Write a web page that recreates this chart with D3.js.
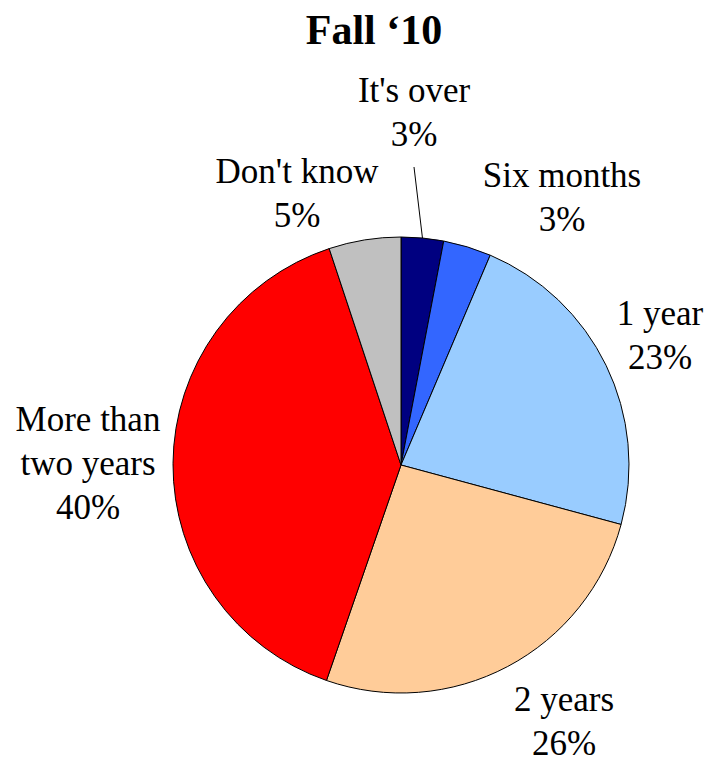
<!DOCTYPE html>
<html>
<head>
<meta charset="utf-8">
<script src="https://cdn.jsdelivr.net/npm/d3@7"></script>
<style>
  html, body { margin: 0; padding: 0; background: #fff; }
  svg { display: block; }
</style>
</head>
<body>
<svg id="chart" width="707" height="762"></svg>
<script>
const title = "Fall \u201810";
const categories = ["It's over", "Six months", "1 year", "2 years", "More than two years", "Don't know"];
const values = [3.0, 3.4, 22.8, 26.1, 39.6, 5.1];
const labelLines = [["It's over"], ["Six months"], ["1 year"], ["2 years"], ["More than", "two years"], ["Don't know"]];
const colors = ["#000080", "#3366FF", "#99CCFF", "#FFCC99", "#FF0000", "#C0C0C0"];

// layout (label anchor: center x, first baseline y)
const labelAnchors = [[414, 102], [562, 187], [660, 325], [564, 711], [88, 431], [297, 183]];

const svg = d3.select("#chart");
const cx = 401, cy = 465, r = 228;
const lineH = 44;

svg.append("text")
  .attr("x", 374).attr("y", 44)
  .attr("text-anchor", "middle")
  .attr("font-family", "'Liberation Serif', 'Times New Roman', serif")
  .attr("font-weight", "bold")
  .attr("font-size", 42)
  .text(title);

const data = categories.map((c, i) => ({ c, v: values[i], i }));
const pie = d3.pie().sort(null).value(d => d.v).startAngle(0).endAngle(2 * Math.PI);
const arcs = pie(data);
const arc = d3.arc().innerRadius(0).outerRadius(r);

const g = svg.append("g").attr("transform", `translate(${cx},${cy})`);
g.selectAll("path").data(arcs).enter().append("path")
  .attr("d", arc)
  .attr("fill", d => colors[d.data.i])
  .attr("stroke", "#000")
  .attr("stroke-width", 1);

// leader line for "It's over"
{
  const a = arcs[0];
  const mid = (a.startAngle + a.endAngle) / 2;
  const ex = cx + r * Math.sin(mid), ey = cy - r * Math.cos(mid);
  svg.append("line")
    .attr("x1", labelAnchors[0][0]).attr("y1", labelAnchors[0][1] + lineH + 21)
    .attr("x2", ex).attr("y2", ey)
    .attr("stroke", "#000").attr("stroke-width", 1);
}

const lbl = svg.append("g")
  .attr("font-family", "'Liberation Serif', 'Times New Roman', serif")
  .attr("font-size", 35)
  .attr("fill", "#000")
  .attr("text-anchor", "middle");

arcs.forEach((a, i) => {
  const lines = labelLines[i].concat([d3.format(".0f")(values[i]) + "%"]);
  const [x, y] = labelAnchors[i];
  const t = lbl.append("text");
  lines.forEach((s, k) => {
    t.append("tspan").attr("x", x).attr("y", y + k * lineH).text(s);
  });
});
</script>
</body>
</html>
